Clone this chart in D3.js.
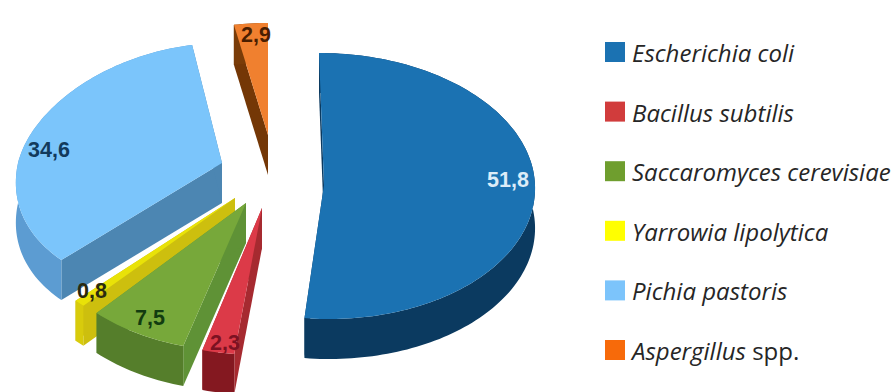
<!DOCTYPE html>
<html>
<head>
<meta charset="utf-8">
<script src="https://cdn.jsdelivr.net/npm/d3@7/dist/d3.min.js"></script>
<style>
  html, body { margin: 0; padding: 0; background: #fff; }
  svg { display: block; }
</style>
</head>
<body>
<svg id="chart" width="896" height="392"></svg>
<script>
// Production hosts and their share, in percent
const species = ["Escherichia coli", "Bacillus subtilis", "Saccaromyces cerevisiae",
                 "Yarrowia lipolytica", "Pichia pastoris", "Aspergillus"];
const suffixes = ["", "", "", "", "", " spp."];
const shares = [51.8, 2.3, 7.5, 0.8, 34.6, 2.9];
const valueLabels = ["51,8", "2,3", "7,5", "0,8", "34,6", "2,9"];

const legendColors = ["#1b72b2", "#d13c3c", "#6f9e2e", "#ffff00", "#7cc4fb", "#f76a0a"];
const topColors    = ["#1b72b2", "#dc3a48", "#77a83a", "#e9e208", "#7bc5fb", "#f0802f"];
const arcWalls     = ["#0b3a60", "#841820", "#557e2b", "#d8cb0c", "#5c9cd2", "#7a3c08"];
const radialWalls  = ["#0b3a60", "#a62a30", "#5f9236", "#cdbf0e", "#4c86b2", "#743706"];
const labelColors  = ["#dcecf8", "#7c1222", "#123c10", "#2a2a10", "#123a5c", "#4a1e00"];

// Exploded 3D view: each wedge has its own apex and projected radii
const wedgeViews = [
  { tx: 324, ty: 185, rx: 211, ryBack: 132, ryFront: 134, shear: 5,    persp: 0,    label: [184, -5] },
  { tx: 262, ty: 208, rx: 225, ryBack: 147, ryFront: 147, shear: -1.6, persp: 0,    label: [-37, 135] },
  { tx: 246, ty: 203, rx: 215, ryBack: 148, ryFront: 148, shear: -7.5, persp: 0,    label: [-96, 115] },
  { tx: 235, ty: 198, rx: 220, ryBack: 145, ryFront: 145, shear: -6,   persp: 0,    label: [-143, 93] },
  { tx: 222, ty: 163, rx: 204, ryBack: 120, ryFront: 137, shear: -3,   persp: 0.13, label: [-173, -13] },
  { tx: 268, ty: 135, rx: 188, ryBack: 112, ryFront: 112, shear: 0,    persp: 0,    label: [-12, -100] }
];
const depth = 40;

const svg = d3.select("#chart");
const wedges = d3.pie().sort(null).startAngle(0).endAngle(2 * Math.PI)(shares);
const outline = d3.line().curve(d3.curveLinear);

// Clockwise angle from twelve o'clock onto the tilted disc of one wedge
function project(view, angle) {
  const u = Math.sin(angle), v = -Math.cos(angle);
  return [
    view.tx + view.rx * u / (1 - view.persp * v) + view.shear * v,
    view.ty + (v < 0 ? view.ryBack : view.ryFront) * v
  ];
}

function extruded(points) {
  const lower = points.map(([x, y]) => [x, y + depth]).reverse();
  return outline(points.concat(lower)) + "Z";
}

// Back-to-front painting order
const paintOrder = [0, 5, 4, 3, 2, 1];

paintOrder.forEach(i => {
  const w = wedges[i], view = wedgeViews[i];
  const steps = Math.max(4, Math.ceil((w.endAngle - w.startAngle) * 40));
  const rim = d3.range(steps + 1).map(k =>
    project(view, w.startAngle + (w.endAngle - w.startAngle) * k / steps));
  const apex = [view.tx, view.ty];
  const g = svg.append("g").attr("class", "wedge");

  g.append("path").attr("d", extruded([apex, rim[0]])).attr("fill", radialWalls[i]);
  g.append("path").attr("d", extruded([apex, rim[rim.length - 1]])).attr("fill", radialWalls[i]);
  g.append("path").attr("d", extruded(rim)).attr("fill", arcWalls[i]);
  g.append("path").attr("d", outline([apex, ...rim]) + "Z").attr("fill", topColors[i]);
});

// Percentage labels
svg.append("g").selectAll("text").data(wedges).join("text")
  .attr("x", (d, i) => wedgeViews[i].tx + wedgeViews[i].label[0])
  .attr("y", (d, i) => wedgeViews[i].ty + wedgeViews[i].label[1])
  .attr("text-anchor", "middle")
  .attr("dominant-baseline", "central")
  .attr("font-family", "'Liberation Sans', Arial, sans-serif")
  .attr("font-weight", "bold")
  .attr("font-size", 21.5)
  .attr("fill", (d, i) => labelColors[i])
  .text((d, i) => valueLabels[i]);

// Legend column
const legendY = d3.scalePoint().domain(species).range([52, 350]);
const legend = svg.append("g").selectAll("g").data(species).join("g")
  .attr("transform", d => `translate(0,${legendY(d)})`);

legend.append("rect")
  .attr("x", 605).attr("y", -10)
  .attr("width", 20).attr("height", 20)
  .attr("fill", (d, i) => legendColors[i]);

const legendText = legend.append("text")
  .attr("x", 632).attr("y", 10)
  .attr("font-family", "'Open Sans', Lato, sans-serif")
  .attr("font-size", 24)
  .attr("fill", "#262626");

legendText.append("tspan").attr("font-style", "italic").text(d => d);
legendText.append("tspan").text((d, i) => suffixes[i]);
</script>
</body>
</html>
